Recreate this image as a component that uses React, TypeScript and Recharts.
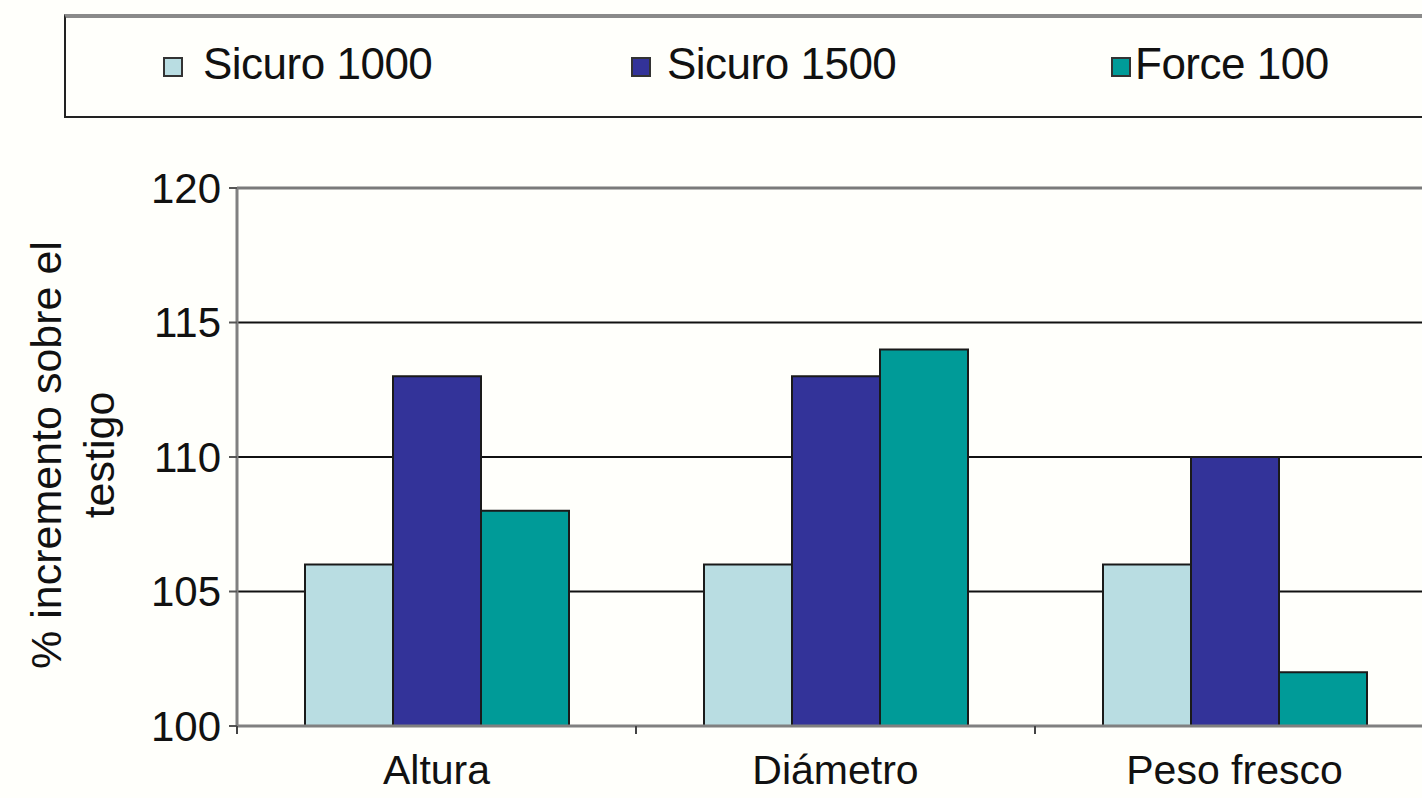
import { Bar, BarChart, CartesianGrid, ReferenceLine, XAxis, YAxis } from 'recharts';

const categories = ['Altura', 'Diámetro', 'Peso fresco'];
const sicuro1000 = [106, 106, 106];
const sicuro1500 = [113, 113, 110];
const force100 = [108, 114, 102];
const yTicks = [100, 105, 110, 115, 120];

const seriesNames = ['Sicuro 1000', 'Sicuro 1500', 'Force 100'];
const seriesKeys = ['s1000', 's1500', 'f100'];
const seriesColors = ['#b9dde2', '#333399', '#009b98'];

const FONT = '"Liberation Sans", Arial, sans-serif';

const data = categories.map((name, i) => ({
 name,
 s1000: sicuro1000[i],
 s1500: sicuro1500[i],
 f100: force100[i],
}));

// legend item positions inside the box (square left, text left)
const legendPos = [
 { sq: 97, tx: 137 },
 { sq: 565, tx: 601 },
 { sq: 1045, tx: 1069 },
];

function CategoryTick(props: any) {
 const { x, y, payload } = props;
 const half = payload?.offset ?? 0;
 return (
 <g>
 <line x1={x - half} x2={x - half} y1={y} y2={y + 8} stroke="#444" strokeWidth={2} />
 <text x={x} y={y + 58} textAnchor="middle" fontSize={41} fontFamily={FONT} fill="#111">
 {payload.value}
 </text>
 </g>
 );
}

function YLabel() {
 return (
 <g fontFamily={FONT} fontSize={43} fill="#111">
 <text x={61} y={455} transform="rotate(-90, 61, 455)" textAnchor="middle">
 % incremento sobre el
 </text>
 <text x={114} y={455} transform="rotate(-90, 114, 455)" textAnchor="middle">
 testigo
 </text>
 </g>
 );
}

export default function App() {
 return (
 <div
 style={{
 position: 'absolute',
 left: 0,
 top: 0,
 width: 1422,
 height: 798,
 overflow: 'hidden',
 background: '#fffffb',
 }}
 >
 <div
 style={{
 position: 'absolute',
 left: 64,
 top: 14,
 width: 1420,
 height: 98,
 borderLeft: '2px solid #222',
 borderBottom: '2px solid #222',
 borderTop: '4px solid #8a8a8a',
 background: '#fffffb',
 fontFamily: FONT,
 }}
 >
 {seriesNames.map((n, i) => (
 <div key={n}>
 <div
 style={{
 position: 'absolute',
 left: legendPos[i].sq,
 top: 39,
 width: 16,
 height: 16,
 background: seriesColors[i],
 border: '2px solid #333',
 }}
 />
 <div
 style={{
 position: 'absolute',
 left: legendPos[i].tx,
 top: 21,
 fontSize: 44,
 lineHeight: '50px',
 letterSpacing: -0.5,
 color: '#111',
 whiteSpace: 'nowrap',
 }}
 >
 {n}
 </div>
 </div>
 ))}
 </div>

 <div style={{ position: 'absolute', left: 0, top: 0 }}>
 <BarChart
 width={1460}
 height={798}
 data={data}
 margin={{ top: 188, right: 26, left: 0, bottom: 0 }}
 barGap={0}
 barSize={88}
 >
 <CartesianGrid vertical={false} stroke="#111" strokeWidth={2} />
 <XAxis
 dataKey="name"
 height={72}
 tickLine={false}
 tickSize={0}
 tickMargin={0}
 axisLine={{ stroke: '#808080', strokeWidth: 3 }}
 tick={<CategoryTick />}
 interval={0}
 />
 <YAxis
 width={237}
 domain={[100, 120]}
 ticks={yTicks}
 interval={0}
 axisLine={{ stroke: '#808080', strokeWidth: 3 }}
 tickLine={{ stroke: '#555', strokeWidth: 2 }}
 tickSize={8}
 tickMargin={8}
 tick={{ fontSize: 42, fontFamily: FONT, fill: '#111' }}
 label={<YLabel />}
 />
 <ReferenceLine y={120} stroke="#7a7a7a" strokeWidth={3} />
 {seriesKeys.map((k, i) => (
 <Bar
 key={k}
 dataKey={k}
 name={seriesNames[i]}
 fill={seriesColors[i]}
 stroke="#1a1a1a"
 strokeWidth={2}
 isAnimationActive={false}
 />
 ))}
 </BarChart>
 </div>
 </div>
 );
}
